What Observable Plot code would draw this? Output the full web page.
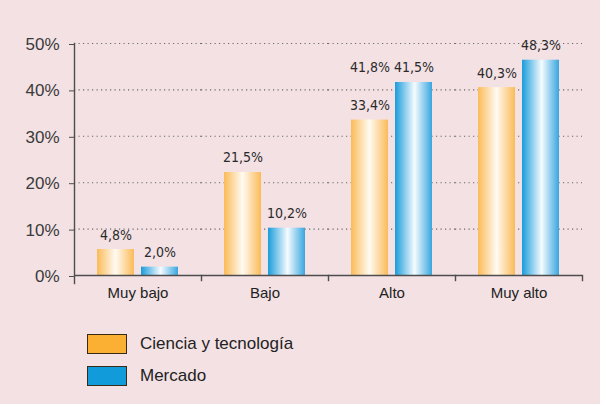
<!DOCTYPE html>
<html><head><meta charset="utf-8">
<script src="https://cdn.jsdelivr.net/npm/d3@7"></script>
<script src="https://cdn.jsdelivr.net/npm/@observablehq/plot@0.6"></script>
<style>
body{margin:0;background:#f3e1e4;}
#wrap{position:relative;width:600px;height:404px;background:#f3e1e4;overflow:hidden;font-family:"Liberation Sans",Arial,sans-serif;}
#chart{position:absolute;left:0;top:0;}
#legend{position:absolute;left:87px;top:334px;}
.row{display:flex;align-items:center;height:20px;margin-bottom:12px;}
.sw{box-sizing:border-box;width:40px;height:20px;border:1.5px solid #3a2a18;margin-right:13px;}
.lab{font-size:17px;color:#222;}
</style></head><body><div id="wrap"><div id="chart"></div><div id="legend"></div></div>
<script>
const categories = ["Muy bajo", "Bajo", "Alto", "Muy alto"];
const seriesNames = ["Ciencia y tecnología", "Mercado"];
const cienciaValues = [5.6, 22.2, 33.5, 40.5];
const mercadoValues = [1.8, 10.2, 41.6, 46.4];
const cienciaLabels = ["4,8%", "21,5%", "33,4%", "40,3%"];
const mercadoLabels = ["2,0%", "10,2%", "41,5%", "48,3%"];
const extraLabelCategory = "Alto";
const extraLabelText = "41,8%";
const yTicks = [0, 10, 20, 30, 40, 50];
const legendColors = ["#fbb034", "#129bdb"];

const data = categories.flatMap((c, i) => [
  {category: c, series: seriesNames[0], value: cienciaValues[i], label: cienciaLabels[i]},
  {category: c, series: seriesNames[1], value: mercadoValues[i], label: mercadoLabels[i]}
]);
const ei = categories.indexOf(extraLabelCategory);
const extra = [{category: extraLabelCategory, series: seriesNames[0], value: mercadoValues[ei], label: extraLabelText}];

const defs = () => {
  const d = d3.create("svg:defs");
  const add = (id, stops) => {
    const g = d.append("linearGradient").attr("id", id).attr("x1", 0).attr("x2", 1).attr("y1", 0).attr("y2", 0);
    stops.forEach(([o, c]) => g.append("stop").attr("offset", o).attr("stop-color", c));
  };
  add("gO", [[0, "#fbbb57"], [0.5, "#fffaf2"], [1, "#fbbb57"]]);
  add("gB", [[0, "#1a9cdb"], [0.53, "#f5fbff"], [1, "#38a6df"]]);
  return d.node();
};

const H = 310, MT = 43, MB = 27, IB = 8;
const labelFont = "'Liberation Sans Narrow', 'DejaVu Sans Condensed', 'Liberation Sans', sans-serif";

const chart = Plot.plot({
  width: 600, height: H,
  marginTop: MT, marginBottom: MB, marginLeft: 73, marginRight: 18,
  style: {background: "transparent", fontFamily: "'Liberation Sans', Arial, sans-serif", overflow: "visible"},
  fx: {domain: categories, padding: 0, label: null},
  x: {domain: seriesNames, paddingInner: 0.16, paddingOuter: 0.52, axis: null},
  y: {domain: [0, 50], insetBottom: IB},
  marks: [
    defs,
    Plot.gridY(yTicks.slice(1), {stroke: "#6a6a6a", strokeOpacity: 1, strokeWidth: 1.1, strokeDasharray: "1.2,3.3"}),
    Plot.barY(data.filter(d => d.series === seriesNames[0]), {fx: "category", x: "series", y: "value", fill: "url(#gO)"}),
    Plot.barY(data.filter(d => d.series === seriesNames[1]), {fx: "category", x: "series", y: "value", fill: "url(#gB)"}),
    Plot.ruleY([0], {stroke: "#4d4d4d", strokeWidth: 1.4}),
    Plot.frame({anchor: "left", facetAnchor: "left", stroke: "#4d4d4d", strokeWidth: 1.4}),
    Plot.frame({anchor: "right", insetTop: H - MT - MB - IB, insetBottom: 3, stroke: "#4d4d4d", strokeWidth: 1.4}),
    Plot.axisY(yTicks, {tickSize: 5, tickPadding: 10, tickFormat: d => d + "%", fontSize: 17, stroke: "#4d4d4d", fill: "#3a3a3a", label: null, dy: 1}),
    Plot.axisFx({anchor: "bottom", tickSize: 0, tickPadding: 4, fontSize: 15, fill: "#222", label: null}),
    Plot.text(data, {fx: "category", x: "series", y: "value", text: "label", lineAnchor: "bottom", dy: -10, fontSize: 14, fontFamily: labelFont, fill: "#2b2b2b"}),
    Plot.text(extra, {fx: "category", x: "series", y: "value", text: "label", lineAnchor: "bottom", dy: -10, fontSize: 14, fontFamily: labelFont, fill: "#2b2b2b"})
  ]
});
document.getElementById("chart").appendChild(chart);

const legend = document.getElementById("legend");
seriesNames.forEach((s, i) => {
  const row = document.createElement("div"); row.className = "row";
  const sw = document.createElement("div"); sw.className = "sw"; sw.style.background = legendColors[i];
  const lab = document.createElement("span"); lab.className = "lab"; lab.textContent = s;
  row.appendChild(sw); row.appendChild(lab); legend.appendChild(row);
});
</script></body></html>
